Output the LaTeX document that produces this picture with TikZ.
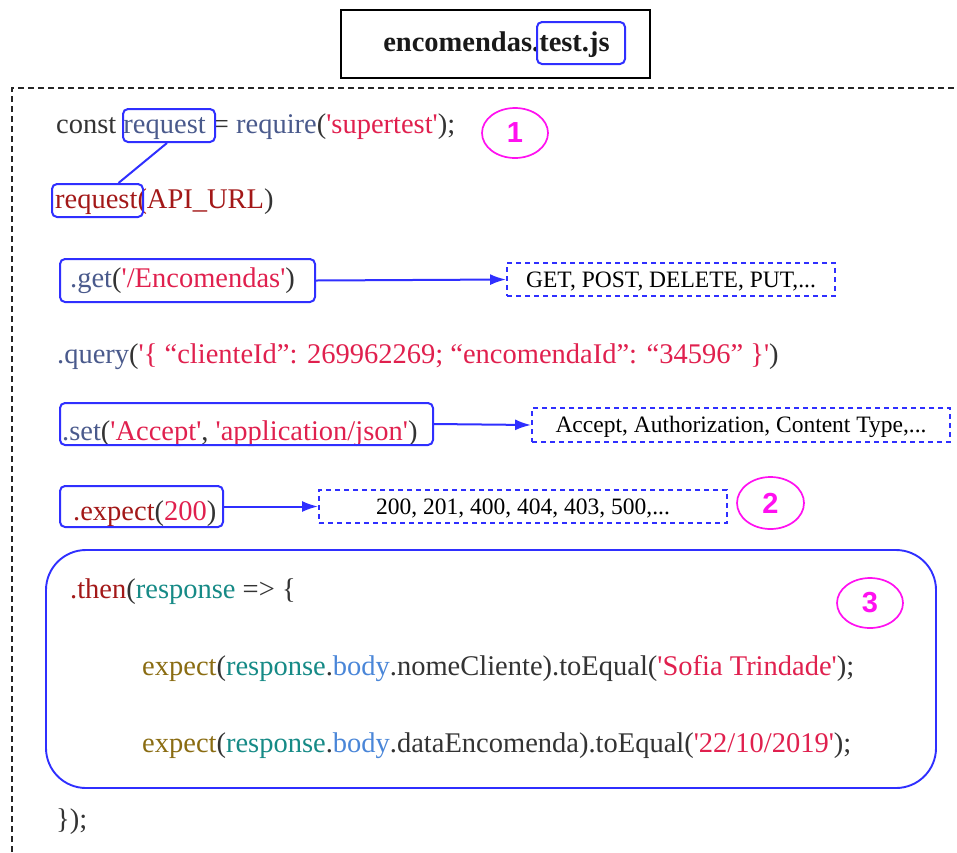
\documentclass[tikz,border=0pt]{standalone}
\usepackage{fontspec}
\setmainfont{Liberation Serif}[Ligatures=TeXOff]
\newfontfamily\numfont{Liberation Sans}
\usetikzlibrary{arrows.meta,shapes.geometric}

\definecolor{txtgray}{HTML}{333333}
\definecolor{fnblue}{HTML}{4A5A8C}
\definecolor{strred}{HTML}{E0204E}
\definecolor{darkred}{HTML}{A31818}
\definecolor{respteal}{HTML}{168A86}
\definecolor{bodyblue}{HTML}{4A86D8}
\definecolor{fnolive}{HTML}{8A6C12}
\definecolor{hlblue}{HTML}{2F2FFF}
\definecolor{badgemag}{HTML}{FF10F0}

\begin{document}
\begin{tikzpicture}[x=1pt,y=-1pt,
  code/.style={anchor=base west,inner sep=0pt,font=\fontsize{28.5}{30}\selectfont,text=txtgray},
  hl/.style={draw=hlblue,line width=2pt,rounded corners=5pt,inner sep=0pt},
  optbox/.style={draw=hlblue,line width=1.9pt,dash pattern=on 5pt off 4pt,inner sep=0pt,
    font=\fontsize{23.5}{25}\selectfont,text=black,text height=15.5pt,text depth=0pt},
  badge/.style={ellipse,draw=badgemag,line width=1.7pt,inner sep=0pt,
    font=\numfont\bfseries\fontsize{29}{29}\selectfont,text=badgemag},
  link/.style={draw=hlblue,line width=2pt},
  arr/.style={draw=hlblue,line width=2pt,-{Latex[length=16pt,width=11pt]}},
  frame/.style={draw=black!85,line width=1.2pt,dash pattern=on 6pt off 4pt}
]
\useasboundingbox (0,0) rectangle (957,852);

% file name header
\node[draw=black,line width=1.6pt,minimum width=309pt,minimum height=68pt,inner sep=0pt] (titlebox) at (495.5,44) {};
\node[anchor=base,inner sep=0pt,font=\bfseries\fontsize{28.5}{30}\selectfont,text=black!90] (title) at (496.5,51) {encomendas.test.js};
\node[hl,minimum width=88pt,minimum height=42pt] (titlehl) at (581,43) {};

% dashed frame around the test body
\draw[frame] (12,852) -- (12,88) -- (957,88);

% line 1
\node[code] (l1) at (56,133) {const \textcolor{fnblue}{request} = \textcolor{fnblue}{require}(\textcolor{strred}{'supertest'});};
\node[hl,minimum width=92pt,minimum height=33pt] (reqA) at (169,125.5) {};
\node[badge,minimum width=66pt,minimum height=50pt] (c1) at (515,133) {1};

% line 2
\node[code] (l2) at (55,208) {\textcolor{darkred}{request(API\_URL})};
\node[hl,minimum width=91pt,minimum height=33pt] (reqB) at (97.5,200.5) {};
\draw[link] ([xshift=-2pt]reqA.south) -- ([xshift=21pt]reqB.north);

% .get
\node[code] (l3) at (70,287) {\textcolor{fnblue}{.get}(\textcolor{strred}{'/Encomendas'})};
\node[hl,minimum width=255pt,minimum height=43pt] (getbox) at (187.5,280.5) {};
\node[optbox,minimum width=328pt,minimum height=33pt] (getopts) at (671,279.5) {GET, POST, DELETE, PUT,...};
\draw[arr] (getbox.east) -- (getopts.west);

% .query
\node[code] (l4) at (57,363) {\textcolor{fnblue}{.query}(\textcolor{strred}{'\{ “clienteId”: 269962269; “encomendaId”: “34596” \}'})};

% .set
\node[code] (l5) at (62,440) {\textcolor{fnblue}{.set}(\textcolor{strred}{'Accept'}, \textcolor{strred}{'application/json'})};
\node[hl,minimum width=373pt,minimum height=42pt] (setbox) at (246.5,424) {};
\node[optbox,minimum width=418pt,minimum height=34pt] (setopts) at (741,425) {Accept, Authorization, Content Type,...};
\draw[arr] (setbox.east) -- (setopts.west);

% .expect
\node[code] (l6) at (73,520) {\textcolor{darkred}{.expect}(\textcolor{strred}{200})};
\node[hl,minimum width=163pt,minimum height=41pt] (expbox) at (141.5,506.5) {};
\node[optbox,minimum width=408pt,minimum height=33pt] (expopts) at (523,506.5) {200, 201, 400, 404, 403, 500,...};
\draw[arr] (expbox.east) -- (expopts.west);
\node[badge,minimum width=67pt,minimum height=52pt] (c2) at (770.5,503) {2};

% .then block
\node[draw=hlblue,line width=1.9pt,rounded corners=40pt,minimum width=890pt,minimum height=238pt,inner sep=0pt] (thenbox) at (491,669) {};
\node[code] (l7) at (70,598) {\textcolor{darkred}{.then}(\textcolor{respteal}{response} => \{};
\node[badge,minimum width=66pt,minimum height=50pt] (c3) at (870,603) {3};
\node[code] (l8) at (142,675) {\textcolor{fnolive}{expect}(\textcolor{respteal}{response}.\textcolor{bodyblue}{body}.nomeCliente).toEqual(\textcolor{strred}{'Sofia Trindade'});};
\node[code] (l9) at (142,752) {\textcolor{fnolive}{expect}(\textcolor{respteal}{response}.\textcolor{bodyblue}{body}.dataEncomenda).toEqual(\textcolor{strred}{'22/10/2019'});};
\node[code] (l10) at (56,828) {\});};
\end{tikzpicture}
\end{document}
